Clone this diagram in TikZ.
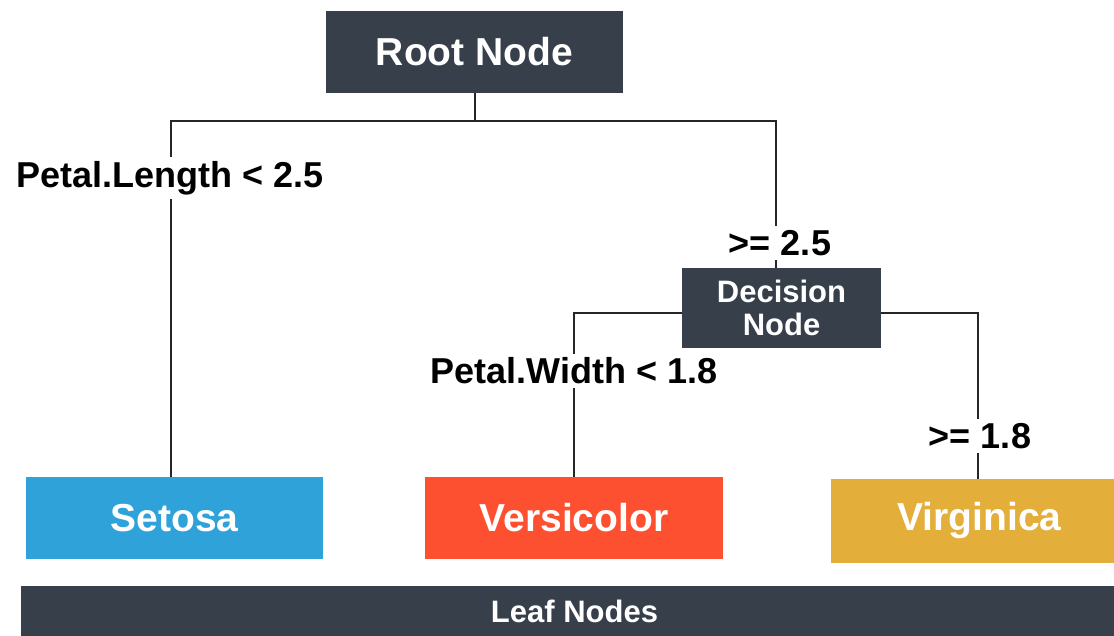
\documentclass[tikz,border=0pt]{standalone}
\usepackage{fontspec}
\setmainfont{Liberation Sans}
\usetikzlibrary{calc}

\definecolor{slate}{RGB}{55,63,75}
\definecolor{setosablue}{RGB}{46,162,217}
\definecolor{versired}{RGB}{253,80,48}
\definecolor{virgyellow}{RGB}{227,174,58}

\begin{document}
\begin{tikzpicture}[every text node part/.style={align=center}, x=0.5pt, y=-0.5pt]

\tikzstyle{box}=[fill=slate, text=white, inner sep=0pt, font=\bfseries\fontsize{19.5}{21}\selectfont]
\tikzstyle{leaf}=[inner sep=0pt, text=white, minimum height=41pt, font=\bfseries\fontsize{19.5}{21}\selectfont]
\tikzstyle{cond}=[fill=white, inner sep=2pt, font=\bfseries\fontsize{18}{20}\selectfont]
\tikzstyle{edge}=[draw, line width=1pt, color=black!85]

\useasboundingbox (0,0) rectangle (1114,636);

\node [box, minimum width=148.5pt, minimum height=41pt] (root) at (474.5, 52) {Root Node};
\node [box, minimum width=99.5pt, minimum height=40pt, font=\bfseries\fontsize{15.5}{16.5}\selectfont] (decision) at (781.5, 308) {Decision\\Node};

\node [leaf, fill=setosablue, minimum width=148.5pt] (setosa)     at (174.5, 518) {Setosa};
\node [leaf, fill=versired,   minimum width=149pt]   (versicolor) at (574, 518)   {Versicolor};
\node [leaf, fill=virgyellow, minimum width=141.5pt, minimum height=42pt] (virginica) at (972.5, 521) {\hspace*{7pt}Virginica};

\node [box, minimum width=546.5pt, minimum height=25pt, font=\bfseries\fontsize{15.5}{17}\selectfont] (leaves) at (567.5, 611) {\hspace*{7pt}Leaf Nodes};

\path [edge] (root.south) -- ++(0,28) -| ([xshift=-1.75pt]setosa.north);
\path [edge] (root.south) -- ++(0,28) -| ([xshift=-2.75pt]decision.north);
\path [edge] ([yshift=-2.5pt]decision.west) -| (versicolor.north);
\path [edge] ([yshift=-2.5pt]decision.east) -| ([xshift=2.75pt]virginica.north);

\node [cond] (lenlt)  at (170, 178) {Petal.Length < 2.5};
\node [cond] (lenge)  at (780, 243) {>= 2.5};
\node [cond] (widlt)  at (574, 371) {Petal.Width < 1.8};
\node [cond] (widge)  at (980, 436) {>= 1.8};

\end{tikzpicture}
\end{document}
